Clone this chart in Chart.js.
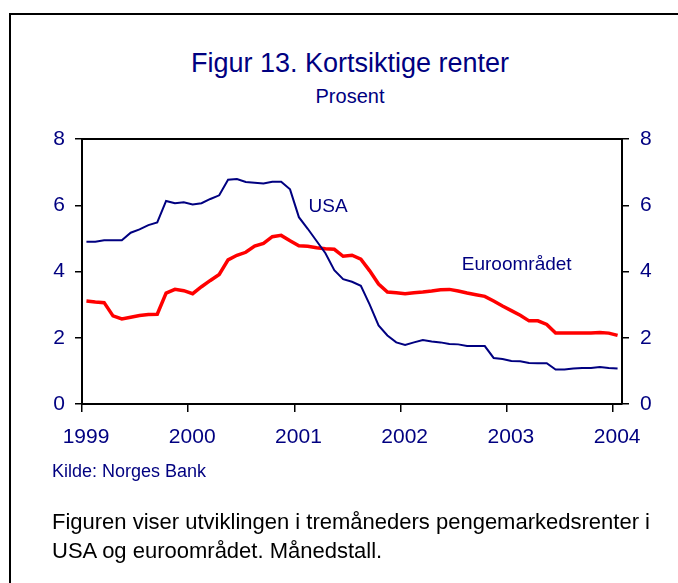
<!DOCTYPE html>
<html>
<head>
<meta charset="utf-8">
<script src="https://cdn.jsdelivr.net/npm/chart.js@4.4.1/dist/chart.umd.min.js"></script>
<style>
  body { margin: 0; background: #fff; }
  #wrap { position: relative; width: 678px; height: 583px; overflow: hidden; font-family: "Liberation Sans", Arial, sans-serif; }
  #frame { position: absolute; left: 9px; top: 13px; width: 700px; height: 600px; border-left: 2px solid #000; border-top: 2px solid #000; }
  #chart { position: absolute; left: 0; top: 0; }
  .navy { color: #000080; }
  #title { position: absolute; left: 0; width: 700px; top: 48px; text-align: center; font-size: 27px; }
  #sub { position: absolute; left: 0; width: 700px; top: 85px; text-align: center; font-size: 20px; }
  #kilde { position: absolute; left: 52px; top: 461px; font-size: 18px; }
  #caption { position: absolute; left: 52px; top: 507px; font-size: 22px; line-height: 29px; color: #000; }
</style>
</head>
<body>
<div id="wrap">
  <div id="frame"></div>
  <div id="title" class="navy">Figur 13. Kortsiktige renter</div>
  <div id="sub" class="navy">Prosent</div>
  <canvas id="chart" width="678" height="583"></canvas>
  <div id="kilde" class="navy">Kilde: Norges Bank</div>
  <div id="caption">Figuren viser utviklingen i tremåneders pengemarkedsrenter i<br>USA og euroområdet. Månedstall.</div>
</div>
<script>
// monthly data, Jan 1999 - Jan 2004
let firstYear = 1999;
let usa = [4.90, 4.90, 4.94, 4.94, 4.94, 5.17, 5.27, 5.40, 5.48, 6.13, 6.06, 6.09,
           6.02, 6.06, 6.19, 6.30, 6.77, 6.79, 6.70, 6.68, 6.66, 6.71, 6.71, 6.48,
           5.64, 5.29, 4.92, 4.55, 4.04, 3.77, 3.69, 3.57, 3.00, 2.37, 2.07, 1.86,
           1.78, 1.86, 1.93, 1.89, 1.86, 1.81, 1.80, 1.75, 1.75, 1.75, 1.39, 1.36,
           1.30, 1.29, 1.24, 1.23, 1.23, 1.04, 1.04, 1.07, 1.09, 1.09, 1.12, 1.09,
           1.07];
let euro = [3.11, 3.08, 3.06, 2.66, 2.57, 2.62, 2.67, 2.70, 2.71, 3.35, 3.46, 3.42,
            3.33, 3.54, 3.73, 3.91, 4.35, 4.49, 4.58, 4.77, 4.85, 5.05, 5.09, 4.93,
            4.78, 4.76, 4.72, 4.69, 4.67, 4.46, 4.49, 4.37, 4.02, 3.62, 3.38, 3.36,
            3.33, 3.36, 3.38, 3.41, 3.45, 3.46, 3.41, 3.35, 3.30, 3.25, 3.11, 2.96,
            2.82, 2.68, 2.51, 2.51, 2.40, 2.14, 2.14, 2.14, 2.14, 2.14, 2.16, 2.14,
            2.07];
let yearTicks = [0, 12, 24, 36, 48, 60];
let yTicks = [0, 2, 4, 6, 8];
let seriesLabels = ['USA', 'Euroområdet'];
// label anchors in data units (month, percent)
let labelPos = [[25.6, 5.8], [42.9, 4.05]];

let navy = '#000080';
let font = '"Liberation Sans", Arial, sans-serif';

function toPoints(arr) {
  return arr.map(function (v, i) { return { x: i + 0.5, y: v }; });
}

let seriesLabelPlugin = {
  id: 'seriesLabels',
  afterDatasetsDraw: function (chart) {
    let ctx = chart.ctx;
    ctx.save();
    ctx.fillStyle = navy;
    ctx.font = '19px ' + font;
    ctx.textBaseline = 'alphabetic';
    seriesLabels.forEach(function (txt, i) {
      let px = chart.scales.x.getPixelForValue(labelPos[i][0]);
      let py = chart.scales.y.getPixelForValue(labelPos[i][1]);
      ctx.fillText(txt, px, py);
    });
    ctx.restore();
  }
};

let ctx = document.getElementById('chart').getContext('2d');
let chart = new Chart(ctx, {
  type: 'line',
  data: {
    datasets: [
      { label: 'USA', data: toPoints(usa), borderColor: navy, borderWidth: 2, pointRadius: 0, tension: 0, yAxisID: 'y' },
      { label: 'Euroområdet', data: toPoints(euro), borderColor: '#ff0000', borderWidth: 3.5, pointRadius: 0, tension: 0, yAxisID: 'y' }
    ]
  },
  options: {
    responsive: false,
    animation: false,
    layout: { padding: { left: 0, right: 0, top: 139, bottom: 129 } },
    plugins: { legend: { display: false }, tooltip: { enabled: false } },
    scales: {
      x: {
        type: 'linear', position: 'bottom', min: 0, max: 61,
        afterBuildTicks: function (s) { s.ticks = yearTicks.map(function (v) { return { value: v }; }); },
        afterFit: function (s) { s.height = 50; },
        ticks: {
          color: navy, font: { family: font, size: 21 }, padding: 13, labelOffset: 4,
          maxRotation: 0, autoSkip: false,
          callback: function (v) { return firstYear + v / 12; }
        },
        grid: { drawOnChartArea: false, drawTicks: true, tickLength: 8, color: '#000', lineWidth: 1.5 },
        border: { display: true, color: '#000', width: 2 }
      },
      xTop: {
        type: 'linear', position: 'top', min: 0, max: 61,
        afterFit: function (s) { s.height = 0; },
        ticks: { display: false },
        grid: { display: false, drawTicks: false },
        border: { display: true, color: '#000', width: 2 }
      },
      y: {
        type: 'linear', position: 'left', min: 0, max: 8,
        afterBuildTicks: function (s) { s.ticks = yTicks.map(function (v) { return { value: v }; }); },
        afterFit: function (s) { s.width = 82; },
        ticks: { color: navy, font: { family: font, size: 21 }, padding: 10 },
        grid: { drawOnChartArea: false, drawTicks: true, tickLength: 7, color: '#000', lineWidth: 1.5 },
        border: { display: true, color: '#000', width: 2 }
      },
      y2: {
        type: 'linear', position: 'right', min: 0, max: 8,
        afterBuildTicks: function (s) { s.ticks = yTicks.map(function (v) { return { value: v }; }); },
        afterFit: function (s) { s.width = 56; },
        ticks: { color: navy, font: { family: font, size: 21 }, padding: 11 },
        grid: { drawOnChartArea: false, drawTicks: true, tickLength: 7, color: '#000', lineWidth: 1.5 },
        border: { display: true, color: '#000', width: 2 }
      }
    }
  },
  plugins: [seriesLabelPlugin]
});
</script>
</body>
</html>
